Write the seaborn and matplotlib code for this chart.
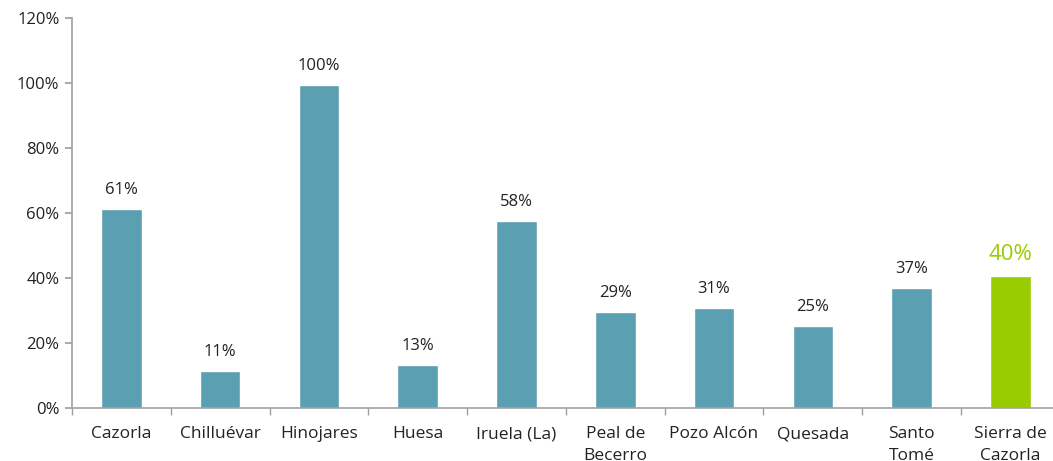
import numpy as np
import pandas as pd
import matplotlib
matplotlib.use("Agg")
import matplotlib.pyplot as plt
import seaborn as sns

# data
municipios = ["Cazorla", "Chilluévar", "Hinojares", "Huesa", "Iruela (La)",
              "Peal de\nBecerro", "Pozo Alcón", "Quesada", "Santo\nTomé",
              "Sierra de\nCazorla"]
valores = [61.2, 11.4, 99.4, 13.2, 57.5, 29.4, 30.8, 25.2, 36.9, 40.5]
etiquetas = ["61%", "11%", "100%", "13%", "58%", "29%", "31%", "25%", "37%", "40%"]

TEAL = "#5a9fb2"
GREEN = "#99cc00"
colores = [TEAL] * 9 + [GREEN]

sns.set_theme(style="white")
plt.rcParams["font.family"] = ["Open Sans", "DejaVu Sans"]

df = pd.DataFrame({"municipio": municipios, "valor": valores})

fig = plt.figure(figsize=(10.53, 4.61), dpi=100)
ax = fig.add_axes([0.0684, 0.115, 0.938, 0.846])

sns.barplot(data=df, x="municipio", y="valor", hue="municipio",
            palette=colores, legend=False, width=0.41, saturation=1, ax=ax)

for i, (v, t) in enumerate(zip(valores, etiquetas)):
    last = i == len(valores) - 1
    ax.text(i, v + 3.4, t, ha="center", va="bottom",
            fontsize=16 if last else 12,
            color=GREEN if last else "#222222")

ax.set_ylim(0, 120)
ax.set_xlim(-0.5, 9.5)
ax.set_yticks(np.arange(0, 121, 20))
ax.set_yticklabels([f"{v}%" for v in range(0, 121, 20)], fontsize=12, color="#222222")
ax.set_xticks(range(len(municipios)))
ax.set_xticklabels(municipios, fontsize=12.5, color="#222222", linespacing=1.5)
ax.set_xticks(np.arange(-0.5, 10, 1), minor=True)
ax.tick_params(axis="x", which="major", length=0, pad=13)
ax.tick_params(axis="x", which="minor", length=5, color="#a0a0a0", direction="out", bottom=True)
ax.tick_params(axis="y", length=5, color="#a0a0a0", direction="out", left=True, pad=4)
ax.set_xlabel("")
ax.set_ylabel("")

for s in ["top", "right"]:
    ax.spines[s].set_visible(False)
for s in ["left", "bottom"]:
    ax.spines[s].set_color("#a0a0a0")
    ax.spines[s].set_linewidth(1.2)

fig.savefig("out.png", dpi=100)
